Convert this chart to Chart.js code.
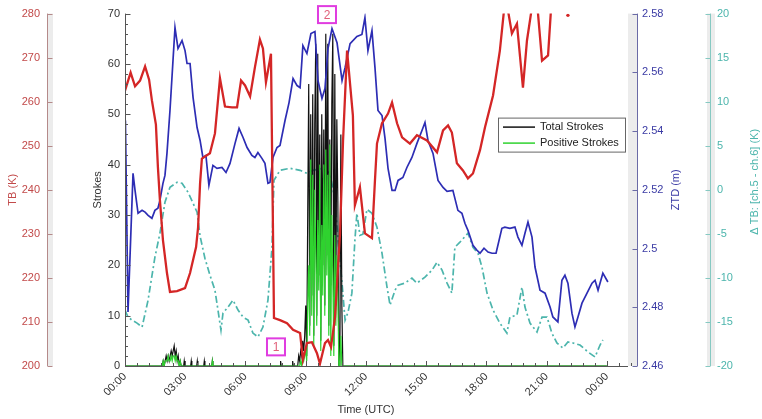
<!DOCTYPE html>
<html>
<head>
<meta charset="utf-8">
<title>TB, ZTD and lightning strokes</title>
<script src="https://cdn.jsdelivr.net/npm/chart.js@4.4.1/dist/chart.umd.min.js"></script>
<style>
  html, body { margin: 0; padding: 0; background: #fff; }
  #wrap { width: 762px; height: 419px; }
</style>
</head>
<body>
<div id="wrap"><canvas id="chart" width="762" height="419"></canvas></div>
<script>
// time axis (hours UTC)
const xTickHours = [0, 3, 6, 9, 12, 15, 18, 21, 24];
const xTickLabels = ['00:00', '03:00', '06:00', '09:00', '12:00', '15:00', '18:00', '21:00', '00:00'];

const tbTicks = [200, 210, 220, 230, 240, 250, 260, 270, 280];
const strokeTicks = [0, 10, 20, 30, 40, 50, 60, 70];
const ztdTicks = [2.46, 2.48, 2.50, 2.52, 2.54, 2.56, 2.58];
const ztdTickLabels = ['2.46', '2.48', '2.5', '2.52', '2.54', '2.56', '2.58'];
const dtbTicks = [-20, -15, -10, -5, 0, 5, 10, 15, 20];

// brightness temperature (K)
const tbHours = [0.00,0.28,0.50,0.75,1.00,1.20,1.34,1.54,1.64,1.74,1.89,2.09,2.24,2.59,2.99,3.24,3.54,3.64,3.74,3.83,
  4.23,4.48,4.73,4.98,5.33,5.58,5.78,5.98,6.23,6.47,6.72,6.87,7.02,7.27,7.42,7.72,8.07,8.37,8.72,8.86,
  9.06,9.31,9.56,9.71,9.96,10.11,10.26,10.46,10.71,10.86,11.06,11.35,11.45,11.70,11.95,12.30,12.45,12.55,12.80,13.10,
  13.30,13.55,13.80,14.19,14.54,15.04,15.54,15.84,16.09,16.28,16.53,16.83,17.08,17.33,17.68,17.93,18.33,18.67,18.95,19.27,
  19.52,19.82,20.02,20.22,20.39,20.57,20.77,21.07,21.26,21.60,22.06];
const tbValues = [262.5,266.6,263.5,264.8,268.0,265.0,260.3,254.8,245.1,237.6,228.6,221.1,216.8,217.0,217.7,221.1,227.0,231.5,241.5,247.1,
  248.3,252.8,265.3,258.9,258.7,258.7,264.8,263.7,261.2,267.8,274.1,272.1,264.4,270.9,210.9,210.4,209.7,208.2,207.5,201.4,
  205.2,205.4,202.9,200.5,205.2,205.9,204.3,211.1,230.1,251.2,271.6,256.9,236.5,240.6,230.1,229.0,242.2,250.5,255.1,257.3,
  259.8,255.1,251.9,250.5,252.4,251.2,248.5,253.5,254.6,253.0,246.0,244.4,242.6,243.7,249.0,254.2,261.4,271.6,284.0,275.5,
  277.7,263.2,273.9,280.0,284.0,280.0,269.3,270.5,284.0,null,279.6];

// zenith total delay (m)
const ztdHours = [0.02,0.15,0.40,0.50,0.65,0.85,1.00,1.15,1.34,1.49,1.64,1.74,1.89,1.99,2.09,2.24,2.39,2.49,2.64,2.84,
  2.99,3.09,3.24,3.39,3.59,3.74,3.88,4.03,4.18,4.38,4.58,4.83,5.03,5.23,5.48,5.68,5.88,6.08,6.32,6.47,
  6.62,6.82,6.97,7.12,7.22,7.37,7.57,7.72,7.97,8.17,8.37,8.57,8.72,8.86,9.06,9.26,9.46,9.61,9.81,9.96,
  10.11,10.31,10.56,10.81,10.96,11.21,11.55,11.80,11.95,12.10,12.30,12.45,12.60,12.80,12.95,13.10,13.30,13.45,13.60,13.84,
  14.04,14.29,14.54,14.79,14.94,15.09,15.34,15.59,15.84,16.04,16.33,16.58,16.78,16.93,17.08,17.33,17.53,17.68,17.88,18.08,
  18.28,18.48,18.77,18.92,19.17,19.42,19.57,19.77,19.92,20.07,20.27,20.42,20.67,20.92,21.17,21.31,21.56,21.76,21.91,22.06,
  22.26,22.41,22.56,22.76,23.01,23.26,23.41,23.56,23.80,24.05];
const ztdValues = [2.5436,2.4784,2.5256,2.5198,2.5120,2.5130,2.5124,2.5113,2.5103,2.5130,2.5137,2.5164,2.5222,2.5249,2.5324,2.5470,2.5640,2.5752,2.5681,2.5708,
  2.5674,2.5630,2.5630,2.5514,2.5412,2.5368,2.5310,2.5317,2.5215,2.5283,2.5273,2.5276,2.5259,2.5290,2.5358,2.5409,2.5378,2.5344,2.5317,2.5310,
  2.5327,2.5307,2.5290,2.5222,2.5225,2.5310,2.5344,2.5351,2.5436,2.5497,2.5579,2.5555,2.5548,2.5691,2.5664,2.5732,2.5739,2.5572,2.5511,2.5545,
  2.5681,2.5749,2.5701,2.5572,2.5616,2.5698,2.5722,2.5729,2.5786,2.5674,2.5742,2.5616,2.5470,2.5453,2.5375,2.5273,2.5198,2.5198,2.5232,2.5242,
  2.5276,2.5310,2.5358,2.5402,2.5429,2.5368,2.5324,2.5232,2.5208,2.5195,2.5198,2.5130,2.5120,2.5086,2.5062,2.5011,2.4994,2.4984,2.5001,2.4988,
  2.4984,2.4984,2.5069,2.5073,2.5069,2.5073,2.5039,2.5011,2.5052,2.5090,2.5039,2.4937,2.4858,2.4848,2.4801,2.4767,2.4750,2.4892,2.4909,2.4882,
  2.4780,2.4733,2.4767,2.4814,2.4848,2.4882,2.4892,2.4858,2.4916,2.4886];

// channel difference ch.5 - ch.6 (K)
const dtbHours = [0.00,0.15,0.35,0.60,0.85,1.15,1.49,1.74,1.99,2.24,2.59,2.84,3.14,3.39,3.59,3.74,3.98,4.23,4.48,4.63,
  4.78,4.88,5.13,5.38,5.63,5.88,6.13,6.37,6.62,6.87,7.12,7.32,7.42,7.72,8.22,8.72,9.06,9.36,9.81,10.21,
  10.46,10.61,10.81,10.96,11.11,11.30,11.45,11.55,11.70,11.85,12.05,12.30,12.55,12.80,13.05,13.20,13.45,13.60,13.94,14.29,
  14.54,14.94,15.29,15.54,15.79,16.04,16.28,16.43,16.68,17.08,17.33,17.58,17.78,18.03,18.33,18.67,19.02,19.17,19.52,19.77,
  19.92,20.17,20.52,20.77,21.02,21.26,21.51,21.81,22.06,22.31,22.66,23.06,23.41,23.66,23.80];
const dtbValues = [-13.65,-14.45,-14.79,-15.13,-15.58,-12.52,-7.65,-4.93,-1.42,0.28,0.85,0.74,-0.28,-1.53,-2.55,-5.27,-7.76,-9.69,-11.39,-13.65,
  -15.92,-13.99,-13.31,-12.52,-13.65,-14.45,-14.79,-16.26,-16.71,-15.58,-12.52,-6.52,1.08,2.21,2.44,2.21,1.87,2.21,2.44,1.87,
  -1.19,-5.72,-10.59,-14.79,-13.88,-11.73,-5.72,-2.66,-5.16,-5.04,-2.21,-2.66,-4.25,-7.20,-11.05,-13.09,-11.39,-10.82,-10.59,-10.03,
  -10.59,-9.92,-9.12,-8.22,-9.12,-10.59,-11.73,-6.52,-5.95,-4.93,-6.52,-7.20,-8.78,-11.73,-13.65,-15.13,-16.26,-14.45,-14.22,-11.05,
  -13.31,-15.13,-16.15,-14.45,-14.45,-16.26,-17.39,-17.96,-17.28,-17.39,-17.62,-18.41,-18.98,-17.62,-17.05];

// lightning strokes per interval
const strokeHours = [0.00,1.85,1.90,1.95,2.00,2.05,2.10,2.15,2.20,2.25,2.30,2.35,2.40,2.45,2.50,2.55,2.60,2.65,2.70,2.75,2.80,
  2.92,2.95,2.98,3.27,3.30,3.33,3.57,3.60,3.63,3.92,3.95,3.98,4.32,4.35,4.38,7.72,7.75,7.78,8.32,8.35,8.38,
  8.60,8.65,8.70,8.75,8.80,8.85,8.90,8.95,9.00,9.05,9.10,9.15,9.20,9.25,9.30,9.35,9.40,9.45,9.50,9.55,9.60,9.65,9.70,9.75,
  9.80,9.85,9.90,9.95,10.00,10.05,10.10,10.15,10.20,10.25,10.30,10.35,10.40,10.45,10.50,10.55,10.60,10.65,10.70,10.75,10.80,10.85,24.00];
const totalStrokes = [0,0,1,0,1,2,1,2,1,2,3,2,3,4,2,3,1,2,0,1,0,
  0,1,0,0,1,0,0,1,0,0,1,0,0,1,0,0,1,0,0,1,0,
  0,2,1,3,2,5,3,6,12,2,30,56,8,50,14,54,6,48,64,10,62,18,46,5,
  50,20,47,12,66,22,64,8,45,16,52,66,4,58,12,49,33,0,0,46,12,0,0];
const positiveStrokes = [0,0,1,0,1,1,1,2,1,1,2,1,2,2,1,2,1,1,0,1,0,
  0,0,0,0,0,0,0,0,0,0,0,0,0,1,0,0,0,0,0,0,0,
  0,0,0,1,0,2,1,2,3,1,12,20,6,41,10,38,4,35,22,8,29,15,40,3,
  28,14,40,10,43,18,38,6,44,2,30,18,2,26,8,22,15,0,0,6,0,0,0];

// numbered event labels (hour, stroke level)
const eventLabels = ['1', '2'];
const eventHours = [7.52, 10.06];
const eventLevels = [3.8, 69.8];

const FONT = "'Liberation Sans', Arial, Helvetica, sans-serif";
const C_TB = '#d42626', C_ZTD = '#2d2db4', C_DTB = '#4cb5ac';
const C_TOTAL = '#111111', C_POS = '#2fd22f';

const pts = (xs, ys) => xs.map((x, i) => ({ x: x, y: ys[i] }));
const lonePoint = (vals, i) => vals[i] !== null &&
  (i === 0 || vals[i - 1] === null) && (i === vals.length - 1 || vals[i + 1] === null);

function hLine(ctx, x1, y1, x2, y2) {
  ctx.beginPath();
  ctx.moveTo(x1, y1);
  ctx.lineTo(x2, y2);
  ctx.stroke();
}

function vTitle(ctx, text, x, y, color) {
  ctx.save();
  ctx.translate(x, y);
  ctx.rotate(-Math.PI / 2);
  ctx.fillStyle = color;
  ctx.font = '11px ' + FONT;
  ctx.textAlign = 'center';
  ctx.textBaseline = 'middle';
  ctx.fillText(text, 0, 0);
  ctx.restore();
}

// vertical axis line with inward ticks
function yAxisLine(ctx, scale, x, top, bottom, color, values, dir, len) {
  const xa = Math.round(x) + 0.5;
  ctx.strokeStyle = color;
  ctx.lineWidth = 1;
  hLine(ctx, xa, top, xa, bottom);
  values.forEach(v => {
    const y = Math.round(scale.getPixelForValue(v)) + 0.5;
    hLine(ctx, xa, y, xa + dir * len, y);
  });
}

const axisDecor = {
  id: 'axisDecor',
  beforeDatasetsDraw(chart) {
    const { ctx, chartArea: a, scales: s } = chart;
    ctx.save();
    ctx.fillStyle = '#ececec';
    ctx.fillRect(s.yTB.right, a.top, 6, a.bottom - a.top);
    ctx.fillRect(a.right - 9, a.top, 9, a.bottom - a.top);
    ctx.fillRect(s.yDTB.left - 3, a.top, 8, a.bottom - a.top);
    ctx.strokeStyle = '#555';
    ctx.lineWidth = 1;
    hLine(ctx, a.left, a.bottom + 0.5, a.right - 9, a.bottom + 0.5);
    ctx.restore();
  },
  afterDraw(chart) {
    const { ctx, chartArea: a, scales: s } = chart;
    ctx.save();

    // x ticks: major every 3 h, minor every 0.6 h
    ctx.strokeStyle = '#555';
    ctx.lineWidth = 1;
    for (let k = 0; k <= 42; k++) {
      const h = k * 0.6;
      const x = Math.round(s.x.getPixelForValue(h)) + 0.5;
      const major = k % 5 === 0;
      hLine(ctx, x, a.bottom, x, a.bottom - (major ? 5 : 3));
    }

    // y axes
    yAxisLine(ctx, s.yTB, s.yTB.right, a.top, a.bottom, '#b58a8a', tbTicks, 1, 5);
    const strokeMinor = [];
    for (let v = 0; v <= 70; v += 2) strokeMinor.push(v);
    yAxisLine(ctx, s.yStr, a.left, a.top, a.bottom, '#555', strokeTicks, 1, 5);
    strokeMinor.forEach(v => {
      const y = Math.round(s.yStr.getPixelForValue(v)) + 0.5;
      hLine(ctx, a.left, y, a.left + 3, y);
    });
    yAxisLine(ctx, s.yZTD, a.right, a.top, a.bottom, '#6a6aa6', ztdTicks, -1, 5);
    yAxisLine(ctx, s.yDTB, s.yDTB.left, a.top, a.bottom, '#86c9c2', dtbTicks, -1, 5);

    // axis titles
    const mid = (a.top + a.bottom) / 2;
    vTitle(ctx, 'TB (K)', s.yTB.left + 13, mid, '#c24a4a');
    vTitle(ctx, 'Strokes', s.yStr.left + 51, mid, '#333');
    vTitle(ctx, 'ZTD (m)', s.yZTD.left + 39, mid, '#3a3aa4');
    vTitle(ctx, '\u0394 TB: [ch.5 - ch.6] (K)', s.yDTB.left + 45, mid - 8, C_DTB);
    ctx.fillStyle = '#333';
    ctx.font = '11px ' + FONT;
    ctx.textAlign = 'center';
    ctx.textBaseline = 'middle';
    ctx.fillText('Time (UTC)', s.x.getPixelForValue(12), 410);

    // legend for the stroke series
    const lx = a.right - 139, ly = a.top + 104;
    ctx.fillStyle = '#fff';
    ctx.fillRect(lx, ly, 127, 34);
    ctx.strokeStyle = '#666';
    ctx.strokeRect(lx + 0.5, ly + 0.5, 127, 34);
    [chart.data.datasets[3], chart.data.datasets[2]].forEach((ds, i) => {
      const y = ly + 9.5 + i * 16;
      ctx.strokeStyle = ds.borderColor;
      ctx.lineWidth = 1.5;
      hLine(ctx, lx + 5, y, lx + 37, y);
      ctx.fillStyle = '#222';
      ctx.textAlign = 'left';
      ctx.fillText(ds.label, lx + 42, y);
    });

    // event labels
    ctx.font = '12px ' + FONT;
    ctx.textAlign = 'center';
    eventLabels.forEach((t, i) => {
      const x = s.x.getPixelForValue(eventHours[i]);
      const y = s.yStr.getPixelForValue(eventLevels[i]);
      ctx.fillStyle = '#fff';
      ctx.fillRect(x - 9, y - 8.5, 18, 17);
      ctx.strokeStyle = '#e03ce0';
      ctx.lineWidth = 2;
      ctx.strokeRect(x - 9, y - 8.5, 18, 17);
      ctx.fillStyle = '#e0607a';
      ctx.fillText(t, x, y + 1);
    });
    ctx.restore();
  }
};

const tickFont = { family: FONT, size: 11 };
const noGrid = { display: false, drawTicks: false };
const fixedTicks = vals => scale => { scale.ticks = vals.map(v => ({ value: v })); };

new Chart(document.getElementById('chart'), {
  type: 'line',
  data: {
    datasets: [
      {
        label: 'TB', data: pts(tbHours, tbValues), yAxisID: 'yTB',
        borderColor: C_TB, backgroundColor: C_TB, borderWidth: 2.3,
        pointRadius: c => lonePoint(tbValues, c.dataIndex) ? 1.7 : 0, pointBorderWidth: 0
      },
      {
        label: 'ZTD', data: pts(ztdHours, ztdValues), yAxisID: 'yZTD',
        borderColor: C_ZTD, borderWidth: 1.7, pointRadius: 0
      },
      {
        label: 'Positive Strokes', data: pts(strokeHours, positiveStrokes), yAxisID: 'yStr',
        borderColor: C_POS, borderWidth: 1.2, pointRadius: 0
      },
      {
        label: 'Total Strokes', data: pts(strokeHours, totalStrokes), yAxisID: 'yStr',
        borderColor: C_TOTAL, borderWidth: 1.2, pointRadius: 0
      },
      {
        label: 'dTB', data: pts(dtbHours, dtbValues), yAxisID: 'yDTB',
        borderColor: C_DTB, borderWidth: 1.7, borderDash: [7, 3, 2, 3], pointRadius: 0
      }
    ]
  },
  options: {
    responsive: false,
    animation: false,
    events: [],
    layout: { padding: { top: 13, left: 0, right: 0, bottom: 0 } },
    plugins: { legend: { display: false }, tooltip: { enabled: false } },
    elements: { line: { tension: 0 } },
    scales: {
      x: {
        type: 'linear', position: 'bottom', min: 0, max: 25.5,
        grid: noGrid, border: { display: false },
        afterBuildTicks: fixedTicks(xTickHours),
        afterFit: sc => { sc.height = 53; },
        ticks: {
          autoSkip: false, maxRotation: 45, minRotation: 45, padding: 4,
          color: '#333', font: tickFont,
          callback: (v, i) => xTickLabels[i]
        }
      },
      yTB: {
        type: 'linear', position: 'left', weight: 1, min: 200, max: 280,
        grid: noGrid, border: { display: false },
        afterBuildTicks: fixedTicks(tbTicks),
        afterFit: sc => { sc.width = 47; },
        ticks: { padding: 7, color: '#c24a4a', font: tickFont }
      },
      yStr: {
        type: 'linear', position: 'left', weight: 0, min: 0, max: 70,
        grid: noGrid, border: { display: false },
        afterBuildTicks: fixedTicks(strokeTicks),
        afterFit: sc => { sc.width = 78; },
        ticks: { padding: 5, color: '#333', font: tickFont }
      },
      yZTD: {
        type: 'linear', position: 'right', weight: 0, min: 2.46, max: 2.58,
        grid: noGrid, border: { display: false },
        afterBuildTicks: fixedTicks(ztdTicks),
        afterFit: sc => { sc.width = 73; },
        ticks: { padding: 5, color: '#3a3aa4', font: tickFont, callback: (v, i) => ztdTickLabels[i] }
      },
      yDTB: {
        type: 'linear', position: 'right', weight: 1, min: -20, max: 20,
        grid: noGrid, border: { display: false },
        afterBuildTicks: fixedTicks(dtbTicks),
        afterFit: sc => { sc.width = 52; },
        ticks: { padding: 7, color: C_DTB, font: tickFont }
      }
    }
  },
  plugins: [axisDecor]
});
</script>
</body>
</html>
